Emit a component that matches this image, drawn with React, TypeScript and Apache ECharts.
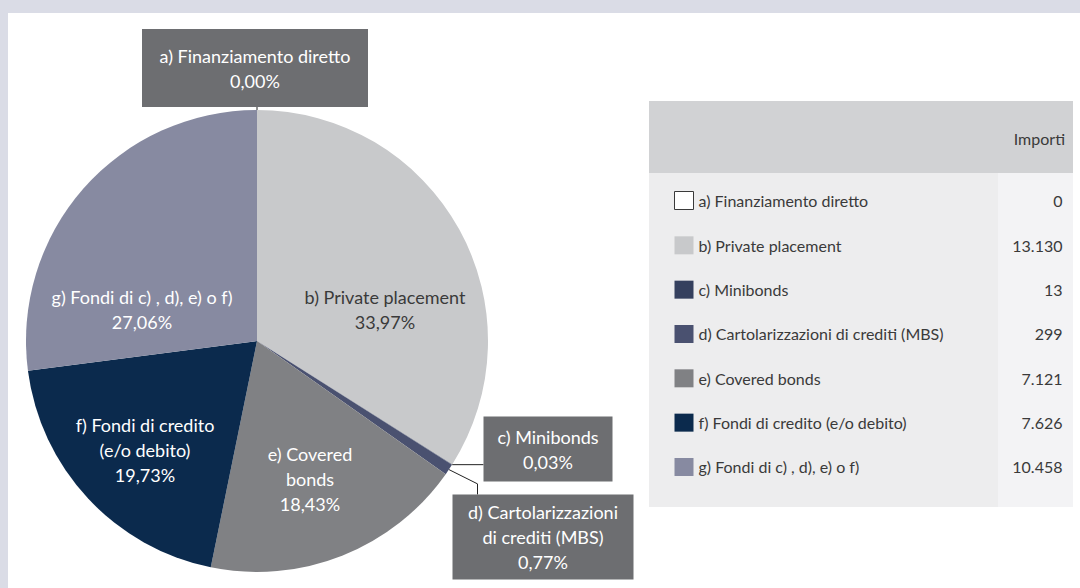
import React, { useEffect, useRef } from "react";
import * as echarts from "echarts";

const categories = [
  "a) Finanziamento diretto",
  "b) Private placement",
  "c) Minibonds",
  "d) Cartolarizzazioni di crediti (MBS)",
  "e) Covered bonds",
  "f) Fondi di credito (e/o debito)",
  "g) Fondi di c) , d), e) o f)",
];
const pieLabelNames = [
  "a) Finanziamento diretto",
  "b) Private placement",
  "c) Minibonds",
  "d) Cartolarizzazioni\ndi crediti (MBS)",
  "e) Covered\nbonds",
  "f) Fondi di credito\n(e/o debito)",
  "g) Fondi di c) , d), e) o f)",
];
const importi = [0, 13130, 13, 299, 7121, 7626, 10458];
const sliceColors = ["#ffffff", "#c8c9cb", "#35405e", "#4a5170", "#808184", "#0b2a4d", "#878aa1"];
const columnHeader = "Importi";

const FONT = "Lato";
const total = importi.reduce((a, b) => a + b, 0);

function fmtIt(n: number): string {
  return String(n).replace(/\B(?=(\d{3})+(?!\d))/g, ".");
}
function fmtPct(v: number): string {
  return ((v / total) * 100).toFixed(2).replace(".", ",") + "%";
}

// label layout (chart coords)
const outsideIdx = [0, 2, 3];
const labelPos: Record<number, { x: number; y: number }> = {
  0: { x: 247, y: 55 },
  1: { x: 377, y: 296 },
  2: { x: 540, y: 436 },
  3: { x: 535, y: 524 },
  4: { x: 302, y: 466 },
  5: { x: 137, y: 437 },
  6: { x: 134, y: 296 },
};
const boxDims: Record<number, { w: number; h: number; pad: number }> = {
  0: { w: 226, h: 78, pad: 14 },
  2: { w: 129, h: 65, pad: 7.5 },
  3: { w: 181, h: 85, pad: 5 },
};

export default function App() {
  const ref = useRef<HTMLDivElement>(null);
  useEffect(() => {
    if (!ref.current) return;
    const chart = echarts.init(ref.current, undefined, { renderer: "svg" });

    const pieData = categories.map((name, i) => {
      const isOut = outsideIdx.includes(i);
      const item: any = {
        name,
        value: importi[i],
        itemStyle: { color: sliceColors[i] },
      };
      if (isOut) {
        const b = boxDims[i];
        item.label = {
          position: "outside",
          color: "#ffffff",
          backgroundColor: "#6d6e71",
          width: b.w,
          padding: [b.pad, 0],
          align: "center",
        };
        item.labelLine = { show: true, lineStyle: { color: "#222", width: 1 } };
      } else {
        item.label = {
          position: "inside",
          color: i === 1 ? "#3a3a3a" : "#ffffff",
        };
        item.labelLine = { show: false };
      }
      return item;
    });

    const legendData = categories.map((name, i) => ({
      name,
      itemStyle:
        i === 0
          ? { color: "#ffffff", borderColor: "#3a3a3a", borderWidth: 1 }
          : { color: sliceColors[i] },
    }));

    const rowGap = 44.33;

    chart.setOption({
      animation: false,
      graphic: [
        { type: "rect", left: 641, top: 88, shape: { width: 424, height: 72 }, style: { fill: "#d1d2d4" }, z: -10 },
        { type: "rect", left: 641, top: 160, shape: { width: 424, height: 334 }, style: { fill: "#ededee" }, z: -10 },
        { type: "rect", left: 990, top: 160, shape: { width: 75, height: 334 }, style: { fill: "#f3f3f5" }, z: -9 },
        {
          type: "text",
          x: 1057,
          y: 125,
          style: { text: columnHeader, fill: "#3a3a3a", font: `16px ${FONT}`, textAlign: "right", textVerticalAlign: "middle" },
          z: 5,
        },
      ],
      legend: {
        orient: "vertical",
        left: 666,
        top: 178,
        padding: 0,
        itemWidth: 19,
        itemHeight: 18,
        itemGap: rowGap - 18,
        selectedMode: false,
        icon: "rect",
        data: legendData,
        formatter: (name: string) => {
          const i = categories.indexOf(name);
          return `{n|${name}}{v|${fmtIt(importi[i])}}`;
        },
        textStyle: {
          fontFamily: FONT,
          fontSize: 16,
          color: "#3a3a3a",
          lineHeight: 18,
          rich: {
            n: { width: 290, fontFamily: FONT, fontSize: 16, color: "#3a3a3a", lineHeight: 18 },
            v: { width: 74, align: "right", fontFamily: FONT, fontSize: 16, color: "#3a3a3a", lineHeight: 18 },
          },
        },
      },
      series: [
        {
          type: "pie",
          center: [249, 328],
          radius: [0, 231],
          startAngle: 90,
          clockwise: true,
          avoidLabelOverlap: false,
          silent: true,
          data: pieData,
          label: {
            fontFamily: FONT,
            fontSize: 18,
            lineHeight: 25,
            formatter: (p: any) => `${pieLabelNames[p.dataIndex]}\n${fmtPct(importi[p.dataIndex])}`,
          },
          labelLine: { smooth: false, length: 10, length2: 10 },
          labelLayout: (p: any) => {
            const i = p.dataIndex;
            const pos = labelPos[i];
            const res: any = { x: pos.x, y: pos.y, align: "center", verticalAlign: "middle", hideOverlap: false };
            const b = boxDims[i];
            const pts = p.labelLinePoints;
            if (b && pts && pts[0]) {
              const s = pts[0];
              const left = pos.x - b.w / 2;
              const top = pos.y - b.h / 2;
              const bottom = pos.y + b.h / 2;
              if (i === 0) res.labelLinePoints = [[s[0], s[1]], [s[0], bottom]];
              else if (i === 2) res.labelLinePoints = [[s[0], s[1]], [left, s[1]]];
              else if (i === 3) {
                const bx = left + 25;
                res.labelLinePoints = [[s[0], s[1]], [bx, s[1] + (bx - s[0]) * 0.5], [bx, top]];
              }
            }
            return res;
          },
        },
      ],
    });
    return () => chart.dispose();
  }, []);

  return (
    <div style={{ position: "fixed", left: 0, top: 0, width: 1080, height: 588, background: "#dadce6" }}>
      <div
        ref={ref}
        style={{ position: "absolute", left: 8, top: 13, width: 1072, height: 575, background: "#ffffff" }}
      />
    </div>
  );
}
